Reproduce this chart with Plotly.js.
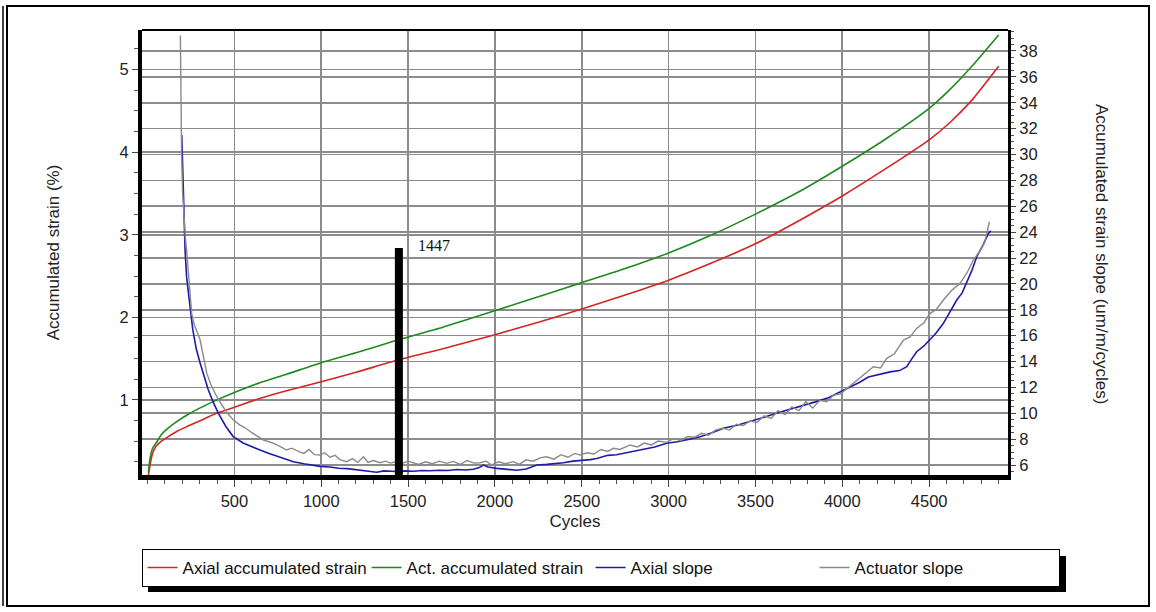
<!DOCTYPE html>
<html>
<head>
<meta charset="utf-8">
<script src="https://cdn.plot.ly/plotly-3.0.1.min.js"></script>
<style>
  html, body { margin: 0; padding: 0; background: #ffffff; }
  #chart { width: 1156px; height: 612px; }
</style>
</head>
<body>
<div id="chart"></div>
<script>
// ---------------- data ----------------
const cyclesStrain = [5, 15, 30, 50, 80, 120, 170, 230, 300, 400, 500, 650, 800, 1000, 1200, 1447, 1700, 2000, 2250, 2500, 2750, 3000, 3250, 3500, 3750, 4000, 4250, 4500, 4620, 4750, 4900];
const axialStrain  = [0.09, 0.22, 0.36, 0.44, 0.50, 0.555, 0.62, 0.68, 0.745, 0.84, 0.91, 1.02, 1.11, 1.22, 1.335, 1.485, 1.62, 1.79, 1.94, 2.10, 2.27, 2.45, 2.66, 2.89, 3.17, 3.47, 3.80, 4.15, 4.36, 4.64, 5.04];
const actStrain    = [0.12, 0.30, 0.42, 0.48, 0.58, 0.66, 0.74, 0.82, 0.90, 1.00, 1.09, 1.21, 1.31, 1.45, 1.57, 1.73, 1.88, 2.08, 2.25, 2.42, 2.59, 2.78, 3.00, 3.25, 3.52, 3.83, 4.16, 4.53, 4.76, 5.05, 5.42];

const cyclesAxialSlope = [197, 200, 205, 210, 216, 225, 235, 245, 260, 280, 302, 325, 350, 380, 408, 450, 493, 550, 600, 648, 700, 760, 840, 900, 993, 1050, 1100, 1150, 1200, 1243, 1280, 1319, 1360, 1400, 1434, 1480, 1530, 1580, 1626, 1680, 1730, 1780, 1830, 1876, 1910, 1933, 1960, 2010, 2060, 2125, 2180, 2241, 2300, 2350, 2394, 2450, 2500, 2550, 2586, 2650, 2700, 2778, 2850, 2920, 2989, 3050, 3120, 3181, 3250, 3315, 3400, 3469, 3550, 3620, 3700, 3780, 3850, 3920, 3980, 4044, 4100, 4150, 4198, 4240, 4275, 4330, 4371, 4400, 4428, 4470, 4505, 4540, 4582, 4620, 4659, 4690, 4716, 4745, 4774, 4810, 4841, 4855];
const axialSlope       = [31.5, 30.0, 27.5, 25.0, 22.6, 20.5, 19.2, 18.2, 16.5, 15.0, 13.9, 12.8, 11.8, 10.8, 10.0, 9.0, 8.2, 7.7, 7.4, 7.16, 6.9, 6.6, 6.26, 6.1, 5.9, 5.85, 5.75, 5.72, 5.65, 5.6, 5.55, 5.44, 5.55, 5.5, 5.5, 5.55, 5.52, 5.58, 5.56, 5.6, 5.58, 5.65, 5.62, 5.67, 5.8, 6.0, 5.85, 5.74, 5.68, 5.6, 5.7, 6.0, 6.05, 6.1, 6.18, 6.3, 6.35, 6.42, 6.5, 6.75, 6.8, 7.03, 7.2, 7.4, 7.68, 7.8, 8.0, 8.19, 8.5, 8.84, 9.1, 9.35, 9.7, 10.0, 10.3, 10.6, 10.9, 11.2, 11.6, 12.05, 12.4, 12.8, 12.95, 13.1, 13.2, 13.3, 13.6, 14.2, 14.76, 15.2, 15.66, 16.2, 16.95, 17.8, 18.75, 19.3, 20.04, 21.0, 22.1, 23.0, 23.9, 24.1];

const cyclesActSlope = [189, 192, 196, 202, 210, 218, 225, 235, 245, 254, 270, 285, 302, 320, 341, 365, 398, 430, 460, 493, 530, 560, 600, 648, 667, 700, 740, 801, 830, 878, 900, 930, 960, 993, 1020, 1050, 1080, 1110, 1147, 1180, 1210, 1243, 1270, 1300, 1339, 1370, 1400, 1430, 1460, 1500, 1530, 1560, 1600, 1640, 1680, 1722, 1760, 1800, 1840, 1880, 1914, 1950, 1980, 2020, 2060, 2106, 2140, 2180, 2220, 2260, 2298, 2340, 2380, 2420, 2460, 2490, 2530, 2570, 2610, 2650, 2682, 2720, 2778, 2820, 2860, 2900, 2940, 2989, 3030, 3070, 3110, 3150, 3190, 3230, 3270, 3310, 3350, 3390, 3430, 3469, 3510, 3550, 3590, 3630, 3670, 3710, 3750, 3790, 3830, 3870, 3910, 3950, 3990, 4044, 4090, 4130, 4179, 4220, 4256, 4300, 4352, 4390, 4428, 4470, 4505, 4540, 4582, 4630, 4678, 4720, 4754, 4790, 4820, 4847];
const actuatorSlope  = [39.2, 34.0, 30.0, 27.0, 25.0, 23.5, 22.6, 21.1, 19.0, 17.7, 16.8, 16.2, 15.7, 14.5, 13.1, 12.2, 11.3, 10.6, 10.0, 9.5, 9.1, 8.9, 8.5, 8.1, 7.93, 7.8, 7.6, 7.16, 7.3, 7.0, 6.9, 7.2, 6.8, 6.77, 6.95, 6.6, 6.75, 6.4, 6.26, 6.5, 6.2, 6.64, 6.2, 6.35, 6.18, 6.3, 6.15, 6.25, 6.1, 6.3, 6.18, 6.05, 6.25, 6.1, 6.3, 6.13, 6.28, 6.05, 6.35, 6.15, 6.18, 6.3, 6.0, 6.25, 6.1, 6.26, 6.05, 6.4, 6.3, 6.55, 6.64, 6.45, 6.8, 6.6, 6.9, 6.77, 6.95, 6.85, 7.2, 7.05, 7.29, 7.2, 7.55, 7.4, 7.7, 7.55, 7.85, 7.75, 8.05, 7.9, 8.2, 8.15, 8.45, 8.3, 8.7, 8.85, 8.7, 9.15, 9.05, 9.4, 9.3, 9.8, 9.6, 10.2, 9.9, 10.5, 10.2, 10.9, 10.4, 11.0, 10.9, 11.4, 11.5, 12.1, 12.6, 13.0, 13.6, 13.5, 14.25, 14.6, 15.66, 15.9, 16.56, 17.0, 17.72, 18.0, 18.75, 19.5, 20.04, 20.9, 21.84, 22.5, 23.2, 24.8];

const markerCycle = 1447;
const markerTop = 2.84;

const xTicks = [500, 1000, 1500, 2000, 2500, 3000, 3500, 4000, 4500];
const yLeftTicks = [1, 2, 3, 4, 5];
const yRightTicks = [6, 8, 10, 12, 14, 16, 18, 20, 22, 24, 26, 28, 30, 32, 34, 36, 38];

// ---------------- styling ----------------
const FONT = 'Liberation Sans, Arial, sans-serif';
const GRID = '#8c8c8c';

const traces = [
  { x: cyclesStrain, y: axialStrain, name: 'Axial accumulated strain', type: 'scatter', mode: 'lines',
    line: { color: '#d42424', width: 1.6, shape: 'spline', smoothing: 0.6 }, yaxis: 'y' },
  { x: cyclesStrain, y: actStrain, name: 'Act. accumulated strain', type: 'scatter', mode: 'lines',
    line: { color: '#1e8a1e', width: 1.6, shape: 'spline', smoothing: 0.6 }, yaxis: 'y' },
  { x: cyclesAxialSlope, y: axialSlope, name: 'Axial slope', type: 'scatter', mode: 'lines',
    line: { color: '#1c1caa', width: 1.6 }, yaxis: 'y2' },
  { x: cyclesActSlope, y: actuatorSlope, name: 'Actuator slope', type: 'scatter', mode: 'lines',
    line: { color: '#8a8a8a', width: 1.4 }, yaxis: 'y2', legendwidth: 199 }
];

// plot area: x 142..1008, y 30..475
const PL = 142, PR = 1008, PT = 30, PB = 475;
const px = v => (v - PL) / (PR - PL);
const py = v => (PB - v) / (PB - PT);

const layout = {
  width: 1156, height: 612,
  margin: { l: 142, r: 148, t: 30, b: 137, autoexpand: false },
  paper_bgcolor: '#ffffff', plot_bgcolor: '#ffffff',
  font: { family: FONT, size: 16.5, color: '#222222' },
  showlegend: true,
  legend: {
    orientation: 'h', x: -0.0005, xanchor: 'left', y: py(549), yanchor: 'top',
    bgcolor: '#ffffff', bordercolor: '#000000', borderwidth: 1,
    font: { family: FONT, size: 17, color: '#111111' },
    entrywidth: 179, entrywidthmode: 'pixels', itemwidth: 30
  },
  xaxis: {
    range: [-32, 4954], tickvals: xTicks, ticks: 'outside', ticklen: 7, tickwidth: 1, tickcolor: '#444',
    showline: true, linewidth: 5, linecolor: '#000000', mirror: false,
    showgrid: true, gridcolor: GRID, gridwidth: 1.6, zeroline: false,
    minor: { tick0: 0, dtick: 100, ticks: 'outside', ticklen: 4, tickcolor: '#555', showgrid: false },
    tickfont: { size: 16.5 },
    title: { text: 'Cycles', font: { size: 17 }, standoff: 8 }
  },
  yaxis: {
    range: [0.09, 5.48], tickvals: yLeftTicks, ticks: 'outside', ticklen: 6, tickwidth: 1, tickcolor: '#444',
    showline: true, linewidth: 4, linecolor: '#000000',
    showgrid: true, gridcolor: GRID, gridwidth: 1.6, zeroline: false,
    minor: { tick0: 0, dtick: 0.25, ticks: 'outside', ticklen: 4, tickcolor: '#555', showgrid: false },
    tickfont: { size: 16.5 },
    title: { text: 'Accumulated strain (%)', font: { size: 17 }, standoff: 57 }
  },
  yaxis2: {
    overlaying: 'y', side: 'right',
    range: [5.23, 39.62], tickvals: yRightTicks, ticks: 'outside', ticklen: 5, tickwidth: 1, tickcolor: '#444',
    showline: true, linewidth: 3, linecolor: '#000000',
    showgrid: true, gridcolor: GRID, gridwidth: 1.6, zeroline: false,
    minor: { tick0: 0, dtick: 0.5, ticks: 'outside', ticklen: 3, tickcolor: '#555', showgrid: false },
    tickfont: { size: 16.5 }
  },
  shapes: [
    // outer frame (double line at left)
    { type: 'rect', xref: 'paper', yref: 'paper', x0: px(7), x1: px(1149), y0: py(606), y1: py(6),
      line: { color: '#000000', width: 2 }, fillcolor: 'rgba(0,0,0,0)', layer: 'below' },
    { type: 'line', xref: 'paper', yref: 'paper', x0: px(3), x1: px(3), y0: py(606), y1: py(6),
      line: { color: '#000000', width: 1.5 } },
    // top border of the plot area
    { type: 'line', xref: 'paper', yref: 'paper', x0: 0, x1: 1, y0: 1, y1: 1,
      line: { color: '#000000', width: 2 } },
    // legend drop shadow
    { type: 'rect', xref: 'paper', yref: 'paper', x0: px(148), x1: px(1066), y0: py(592), y1: py(556),
      line: { width: 0 }, fillcolor: '#000000' },
    // cycle marker bar
    { type: 'line', xref: 'x', yref: 'y', x0: markerCycle, x1: markerCycle, y0: 0.09, y1: markerTop,
      line: { color: '#000000', width: 8 } }
  ],
  annotations: [
    { text: String(markerCycle), xref: 'x', yref: 'y', x: markerCycle + 100, y: markerTop + 0.03,
      xanchor: 'left', yanchor: 'middle', showarrow: false,
      font: { family: 'Liberation Serif, Times New Roman, serif', size: 16, color: '#111111' } },
    { text: 'Accumulated strain slope (um/m/cycles)', xref: 'paper', yref: 'paper',
      x: px(1102), y: py(254), textangle: 90, showarrow: false, xanchor: 'center', yanchor: 'middle',
      font: { family: FONT, size: 17, color: '#222222' } }
  ]
};

Plotly.newPlot('chart', traces, layout, { displayModeBar: false, staticPlot: true });
</script>
</body>
</html>
